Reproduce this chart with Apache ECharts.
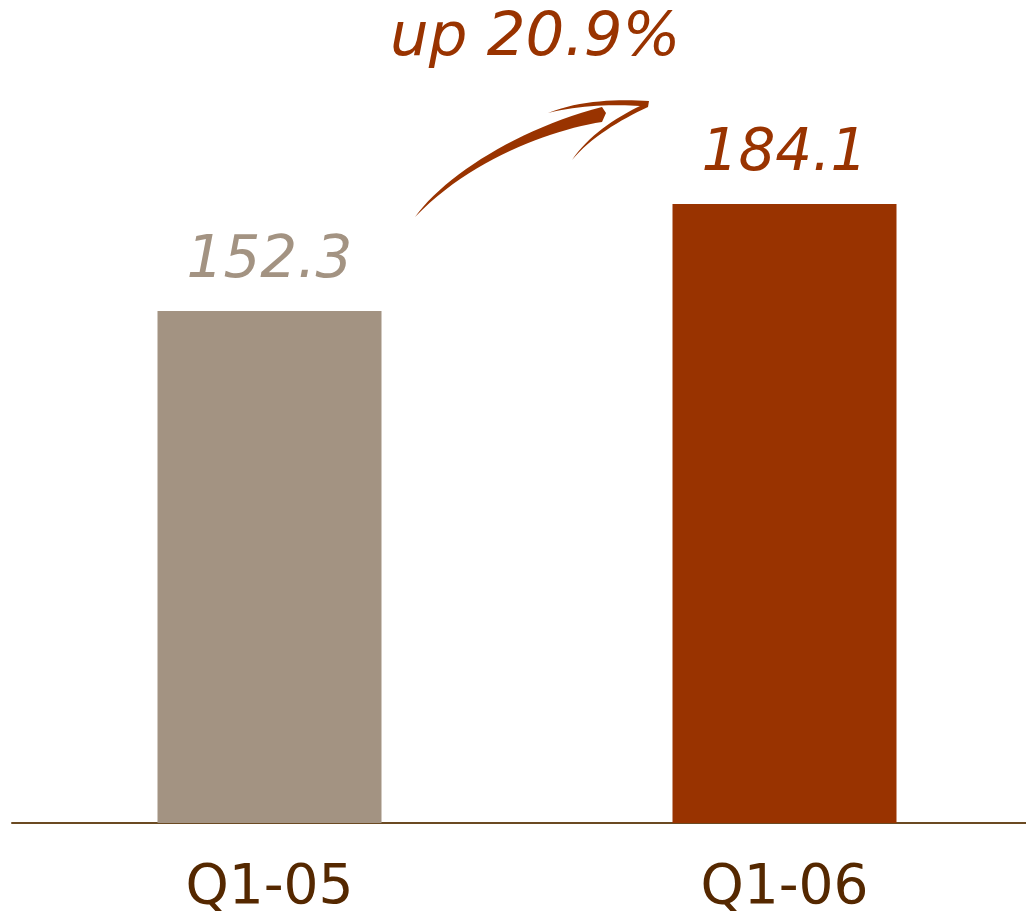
<!DOCTYPE html>
<html><head><meta charset="utf-8">
<script src="https://cdn.jsdelivr.net/npm/echarts@6/dist/echarts.min.js"></script>
<style>html,body{margin:0;padding:0;background:#fff}#c{width:1026px;height:912px}</style>
</head><body><div id="c"></div>
<script>
var categories = ['Q1-05', 'Q1-06'];
var values = [152.3, 184.1];
var barColors = ['#a39382', '#993300'];
var changeLabel = 'up 20.9%';

// sample cubic bezier segments into polygon points (arrow decoration)
function bez(p0, p1, p2, p3, n) {
  var out = [];
  for (var i = 0; i <= n; i++) {
    var t = i / n, u = 1 - t;
    out.push([
      u*u*u*p0[0] + 3*u*u*t*p1[0] + 3*u*t*t*p2[0] + t*t*t*p3[0],
      u*u*u*p0[1] + 3*u*u*t*p1[1] + 3*u*t*t*p2[1] + t*t*t*p3[1]
    ]);
  }
  return out;
}
var bodyPts = [].concat(
  bez([415,217],[445,175],[520,128],[602,107],24),
  [[606,113]],
  bez([602,122],[550,130],[470,160],[416,216],24)
);
var headPts = [].concat(
  bez([548,113],[580,100],[620,99],[649,101],16),
  bez([648,107],[620,120],[590,138],[572,160],16),
  bez([572,160],[588,136],[615,118],[640,106],16),
  bez([640,106],[615,104],[580,105],[548,113],16)
);

var chart = echarts.init(document.getElementById('c'));
chart.setOption({
  animation: false,
  grid: { left: 12, width: 1030, top: 0, bottom: 89, containLabel: false, outerBoundsMode: 'none' },
  xAxis: {
    type: 'category', data: categories,
    axisLine: { lineStyle: { color: '#6b4a22', width: 2 } },
    axisTick: { show: false },
    axisLabel: { color: '#552800', fontFamily: 'DejaVu Sans', fontSize: 55, margin: 38 }
  },
  yAxis: { type: 'value', min: 0, max: 244.8, show: false, splitLine: { show: false } },
  series: [{
    type: 'bar', barWidth: 224,
    data: values.map(function (v, i) {
      return { value: v, itemStyle: { color: barColors[i] },
        label: { color: barColors[i] } };
    }),
    label: { show: true, position: 'top', distance: 20, fontFamily: 'DejaVu Sans',
      fontStyle: 'italic', fontSize: 58 }
  }],
  graphic: [
    { type: 'text', x: 390, y: 9,
      style: { text: changeLabel, fill: '#993300', font: 'italic 61px "DejaVu Sans"' } },
    { type: 'polygon', shape: { points: bodyPts }, style: { fill: '#993300' } },
    { type: 'polygon', shape: { points: headPts }, style: { fill: '#993300' } }
  ]
});
</script></body></html>
